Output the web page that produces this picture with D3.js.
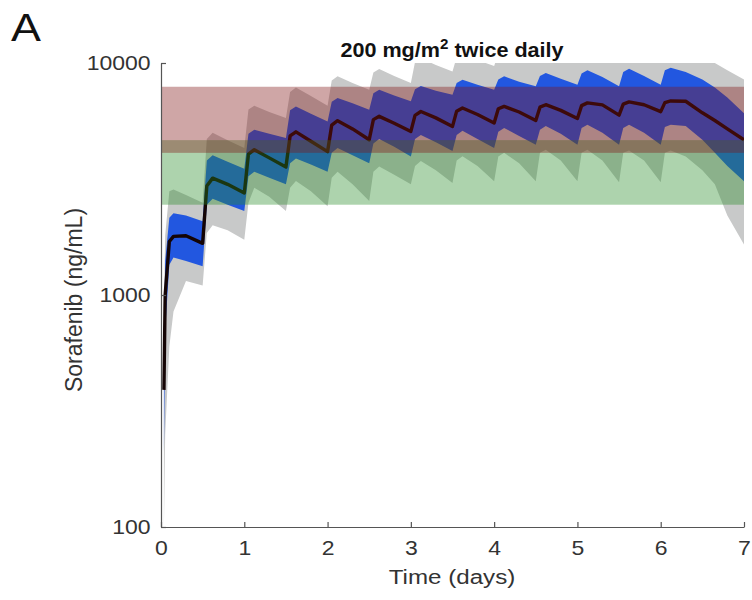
<!DOCTYPE html>
<html>
<head>
<meta charset="utf-8">
<script src="https://cdn.jsdelivr.net/npm/d3@7"></script>
<style>
body { margin: 0; background: #fff; }
text { font-family: "Liberation Sans", Arial, Helvetica, sans-serif; }
</style>
</head>
<body>
<div id="chart"></div>
<script>
// time points (days) and simulated sorafenib concentration percentiles (ng/mL)
var time = [0.035,0.05,0.1,0.15,0.3,0.5,
  0.55,0.62,0.8,1.0,
  1.05,1.12,1.3,1.5,
  1.55,1.62,1.8,2.0,
  2.05,2.12,2.3,2.5,
  2.55,2.62,2.8,3.0,
  3.05,3.12,3.3,3.5,
  3.55,3.62,3.8,4.0,
  4.05,4.12,4.3,4.5,
  4.55,4.62,4.8,5.0,
  5.05,5.12,5.3,5.5,
  5.55,5.62,5.8,6.0,
  6.05,6.12,6.3,6.5,6.65,6.8,7.0];

var median = [390,1000,1700,1790,1800,1670,
  2950,3190,3000,2750,
  4050,4230,3900,3560,
  4850,5050,4600,4150,
  5400,5640,5200,4670,
  5700,5890,5500,5070,
  5950,6180,5800,5330,
  6200,6400,6000,5510,
  6350,6500,6150,5650,
  6450,6610,6250,5760,
  6550,6730,6600,5960,
  6650,6800,6610,6170,
  6750,6860,6840,6100,5650,5200,4670];

var lo50 = [210,700,1350,1450,1400,1330,
  2450,2600,2450,2300,
  3250,3400,3200,3000,
  3700,3880,3650,3400,
  4100,4300,4000,3700,
  4500,4700,4350,3950,
  4700,4900,4550,4180,
  4900,5100,4700,4300,
  5050,5250,4850,4440,
  5150,5350,4950,4440,
  5250,5420,5000,4440,
  5250,5420,5000,4440,
  5300,5420,5350,4670,4100,3600,3090];

var hi50 = [600,1400,2150,2250,2200,2080,
  3800,4000,3750,3500,
  4950,5150,4950,4750,
  6250,6500,6050,5600,
  6800,7060,6700,6290,
  7400,7670,7250,6840,
  7700,7950,7600,7300,
  8200,8470,8050,7670,
  8500,8760,8300,7930,
  8800,9060,8550,8060,
  9000,9300,8700,7930,
  9150,9450,8800,8060,
  9300,9550,9150,8500,7850,7100,6080];

var lo90 = [100,250,600,850,1150,1100,
  1850,2000,1900,1730,
  2500,2900,2650,2300,
  2900,3100,2800,2410,
  3200,3400,3000,2540,
  3400,3580,3300,3000,
  3600,3780,3450,3040,
  3800,3960,3600,3090,
  3950,4100,3700,3090,
  4100,4230,3800,3090,
  4100,4230,3800,3060,
  4100,4200,3800,3060,
  4100,4200,3950,3450,3000,2200,1650];

var hi90 = [900,1800,2800,2850,2700,2500,
  4700,5000,4650,4300,
  6300,6550,6150,5800,
  7500,7850,7200,6550,
  8400,8760,8200,7670,
  9100,9420,8800,8200,
  10100,10500,9800,9200,
  10600,11000,10300,9700,
  11000,11500,10800,10300,
  11500,11800,11200,10500,
  11800,12000,11400,10700,
  12000,12200,11500,10800,
  12000,12200,11800,11000,10000,9300,8500];

// target ranges drawn as horizontal bands
var greenBand = [2450, 4650];
var redBand = [4100, 7900];

var xTicks = [0,1,2,3,4,5,6,7];
var yTicks = [100,1000,10000];

var SX = 1.15; // glyphs in the figure are a bit wide

var margin = {top: 63, right: 8, bottom: 73, left: 161},
  width = 752 - margin.left - margin.right,
  height = 600 - margin.top - margin.bottom;

var svg = d3.select("#chart").append("svg")
  .attr("width", 752).attr("height", 600);

var g = svg.append("g")
  .attr("transform", "translate(" + margin.left + "," + margin.top + ")");

var x = d3.scaleLinear().domain([0, 7]).range([0, width]);
var y = d3.scaleLog().domain([100, 10000]).range([height, 0]);

g.append("clipPath").attr("id", "plotclip")
  .append("rect").attr("x", 0).attr("y", 0).attr("width", width).attr("height", height);

var data = time.map(function(t, i) {
  return {t: t, med: median[i], l50: lo50[i], h50: hi50[i], l90: lo90[i], h90: hi90[i]};
});

var plot = g.append("g").attr("clip-path", "url(#plotclip)");

var area90 = d3.area()
  .x(function(d) { return x(d.t); })
  .y0(function(d) { return y(d.l90); })
  .y1(function(d) { return y(d.h90); });
var area50 = d3.area()
  .x(function(d) { return x(d.t); })
  .y0(function(d) { return y(d.l50); })
  .y1(function(d) { return y(d.h50); });
var medLine = d3.line()
  .x(function(d) { return x(d.t); })
  .y(function(d) { return y(d.med); });

plot.append("path").datum(data).attr("d", area90).attr("fill", "#c8c9c9");
plot.append("path").datum(data).attr("d", area50).attr("fill", "#2257e0");
plot.append("path").datum(data).attr("d", medLine)
  .attr("fill", "none").attr("stroke", "#140404").attr("stroke-width", 3.4)
  .attr("stroke-linejoin", "round");

// green then red band on top, semi transparent
plot.append("rect")
  .attr("x", x(0)).attr("width", x(7) - x(0))
  .attr("y", y(greenBand[1])).attr("height", y(greenBand[0]) - y(greenBand[1]))
  .attr("fill", "rgb(40,140,40)").attr("fill-opacity", 0.38);
plot.append("rect")
  .attr("x", x(0)).attr("width", x(7) - x(0))
  .attr("y", y(redBand[1])).attr("height", y(redBand[0]) - y(redBand[1]))
  .attr("fill", "rgb(130,20,20)").attr("fill-opacity", 0.38);

// axes
var xAxis = g.append("g")
  .attr("transform", "translate(0," + height + ")")
  .call(d3.axisBottom(x).tickValues(xTicks).tickFormat(d3.format("d"))
    .tickSizeInner(-5).tickSizeOuter(0).tickPadding(14));
var yAxis = g.append("g")
  .call(d3.axisLeft(y).tickValues(yTicks).tickFormat(d3.format("d"))
    .tickSizeInner(-5).tickSizeOuter(0).tickPadding(9));

[xAxis, yAxis].forEach(function(ax) {
  ax.select(".domain").attr("stroke", "#555").attr("stroke-width", 1.2);
  ax.selectAll(".tick line").attr("stroke", "#555").attr("stroke-width", 1.2);
  ax.selectAll(".tick text")
    .attr("fill", "#333").attr("font-size", "20px")
    .attr("transform", "scale(" + SX + ",1)");
});

// labels
svg.append("text")
  .attr("transform", "translate(452,584) scale(" + SX + ",1)")
  .attr("text-anchor", "middle").attr("font-size", "21px").attr("fill", "#333")
  .text("Time (days)");

svg.append("text")
  .attr("transform", "translate(82,300) rotate(-90)")
  .attr("text-anchor", "middle").attr("font-size", "23px").attr("fill", "#333")
  .text("Sorafenib (ng/mL)");

var title = svg.append("text")
  .attr("transform", "translate(452,57) scale(1.08,1)")
  .attr("text-anchor", "middle").attr("font-size", "20px").attr("font-weight", "bold")
  .attr("fill", "#111");
title.append("tspan").text("200 mg/m");
title.append("tspan").attr("baseline-shift", "super").attr("font-size", "14px").text("2");
title.append("tspan").text(" twice daily");

svg.append("text")
  .attr("transform", "translate(11,41) scale(" + SX + ",1)")
  .attr("font-size", "39px").attr("fill", "#111")
  .text("A");
</script>
</body>
</html>
